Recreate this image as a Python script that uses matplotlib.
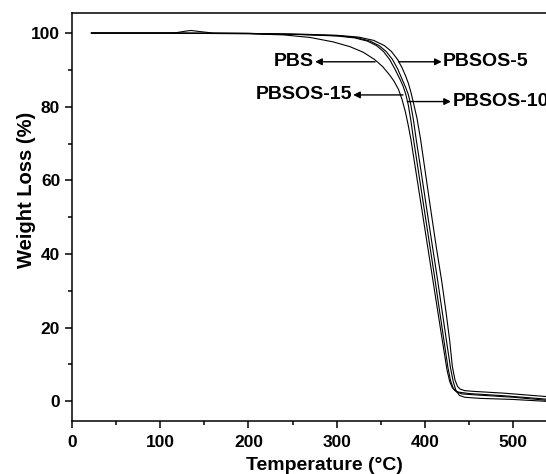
import matplotlib
matplotlib.use("Agg")
import matplotlib.pyplot as plt
from matplotlib.ticker import MultipleLocator

plt.rcParams['font.family'] = ['Liberation Sans', 'DejaVu Sans']
plt.rcParams['font.weight'] = 'bold'

# TGA curves (temperature in C, weight in %)
pbs_t = [22, 100, 200, 240, 270, 296, 315, 330, 343, 352, 360, 365, 370, 374, 378, 381, 384,
         390, 396, 402, 408, 414, 420, 425, 428, 431, 434, 438, 450, 490, 537]
pbs_w = [100, 100, 99.8, 99.5, 98.8, 97.6, 96.3, 94.8, 92.8, 90.9, 88.6, 86.9, 84.7, 82.0, 78.4, 75.0, 71.2,
         62.0, 52.8, 43.6, 34.4, 25.2, 16.0, 8.5, 5.4, 3.7, 2.9, 2.5, 2.1, 1.5, 0.6]

pbsos15_t = [22, 100, 200, 260, 300, 320, 335, 345, 353, 360, 366, 372, 375, 378, 381, 384, 387,
             393, 399, 405, 411, 417, 422, 426, 429, 432, 436, 442, 460, 500, 537]
pbsos15_w = [100, 100, 99.9, 99.6, 99.2, 98.7, 97.8, 96.6, 95.0, 92.8, 90.2, 87.3, 85.7, 83.6, 80.6, 76.3, 71.2,
             61.8, 52.4, 43.0, 33.6, 23.8, 15.7, 9.2, 5.6, 3.6, 2.5, 2.0, 1.7, 1.1, 0.3]

pbsos10_t = [22, 100, 200, 260, 300, 322, 338, 348, 356, 363, 369, 374, 378, 381, 384, 387, 390,
             396, 402, 408, 414, 420, 425, 429, 432, 435, 439, 445, 462, 500, 537]
pbsos10_w = [100, 100, 99.9, 99.6, 99.3, 98.8, 97.8, 96.6, 95.0, 92.9, 90.3, 87.5, 85.3, 83.4, 80.5, 76.3, 71.2,
             61.8, 52.2, 42.8, 33.4, 23.6, 15.4, 9.0, 5.4, 3.0, 1.6, 1.1, 0.8, 0.5, 0.0]

pbsos5_t = [22, 100, 118, 128, 135, 145, 160, 200, 260, 300, 325, 342, 354, 362, 369, 374, 378, 381,
            384, 387, 391, 395, 401, 407, 413, 419, 424, 428, 431, 434, 437, 440, 445, 455, 490, 537]
pbsos5_w = [100, 100, 100.1, 100.5, 100.7, 100.4, 100.0, 99.9, 99.7, 99.4, 98.9, 98.0, 96.6, 95.0, 92.8, 90.6, 88.4, 86.5,
            84.0, 81.0, 76.8, 71.2, 61.2, 51.3, 41.6, 32.6, 24.0, 16.5, 9.5, 5.8, 4.0, 3.3, 2.9, 2.7, 2.2, 1.3]

series = [(pbs_t, pbs_w), (pbsos15_t, pbsos15_w), (pbsos10_t, pbsos10_w), (pbsos5_t, pbsos5_w)]

# labels: text, arrow tail (on curve), arrow head, side
labels = [
    ("PBS", (343.5, 92.2), (275.5, 92.2), 'right'),
    ("PBSOS-5", (370.0, 92.2), (419.0, 92.2), 'left'),
    ("PBSOS-15", (375.0, 83.2), (318.6, 83.2), 'right'),
    ("PBSOS-10", (380.0, 81.4), (429.5, 81.4), 'left'),
]

fig = plt.figure(figsize=(5.46, 4.74), dpi=100)
ax = fig.add_axes([0.1319, 0.1122, 0.905, 0.860])

for t, w in series:
    ax.plot(t, w, color='black', lw=0.8)

for text, tail, head, ha in labels:
    ax.annotate("", xy=head, xytext=tail,
                arrowprops=dict(arrowstyle='-|>', color='black', lw=1.0,
                                mutation_scale=10, shrinkA=0, shrinkB=0))
    off = -1.5 if ha == 'right' else 1.5
    ax.text(head[0] + off, head[1], text, ha=ha, va='center',
            fontsize=14, fontweight='bold')

ax.set_xlim(0, 560)
ax.set_ylim(-5.3, 105.4)
ax.xaxis.set_major_locator(MultipleLocator(100))
ax.xaxis.set_minor_locator(MultipleLocator(50))
ax.yaxis.set_major_locator(MultipleLocator(20))
ax.yaxis.set_minor_locator(MultipleLocator(10))
ax.tick_params(which='major', direction='out', length=5, width=1.1, labelsize=12.5)
ax.tick_params(axis='x', which='major', pad=5)
ax.tick_params(which='minor', direction='out', length=3, width=1.1)
for s in ax.spines.values():
    s.set_linewidth(1.1)

ax.set_xlabel("Temperature (\u00b0C)", fontsize=14, fontweight='bold')
ax.set_ylabel("Weight Loss (%)", fontsize=14.5, fontweight='bold')
ax.xaxis.set_label_coords(0.51, -0.088)
ax.yaxis.set_label_coords(-0.073, 0.566)

fig.savefig("out.png", dpi=100)
